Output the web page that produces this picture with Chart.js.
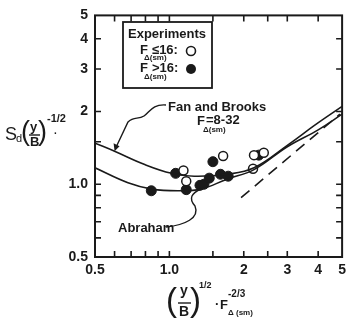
<!DOCTYPE html>
<html>
<head>
<meta charset="utf-8">
<script src="https://cdn.jsdelivr.net/npm/chart.js@4.4.0/dist/chart.umd.min.js"></script>
<style>
  html, body { margin: 0; padding: 0; background: #fff; }
  #wrap { width: 351px; height: 321px; }
</style>
</head>
<body>
<div id="wrap"><canvas id="c" width="351" height="321"></canvas></div>
<script>
// tick positions / labels (log axes, 0.5 .. 5)
const xTicks      = [0.5, 0.6, 0.7, 0.8, 0.9, 1.0, 1.5, 2, 2.5, 3, 4, 5];
const xTickLabels = ['0.5', '', '', '', '', '1.0', '', '2', '', '3', '4', '5'];
const yTicks      = [0.5, 0.6, 0.7, 0.8, 0.9, 1.0, 1.5, 2, 3, 4, 5];
const yTickLabels = ['0.5', '', '', '', '', '1.0', '', '2', '3', '4', '5'];

// Fan and Brooks curve (F = 8-32)
const fanX = [0.5, 0.6, 0.79, 1.02, 1.26, 1.71, 2.2, 3.03, 3.89, 5.0];
const fanY = [1.48, 1.37, 1.21, 1.11, 1.08, 1.10, 1.17, 1.46, 1.76, 2.10];

// Abraham curve
const abrX = [0.5, 0.68, 0.85, 1.08, 1.34, 1.71, 2.2, 3.0, 4.0, 5.0];
const abrY = [1.17, 1.015, 0.955, 0.94, 0.955, 1.05, 1.15, 1.43, 1.68, 1.95];

// dashed reference line
const dashX = [1.95, 4.9];
const dashY = [0.88, 1.95];

// experiments, F <= 16 (open)
const openX = [1.14, 1.17, 1.65, 2.2, 2.41, 2.18];
const openY = [1.14, 1.03, 1.31, 1.32, 1.35, 1.16];

// experiments, F > 16 (filled)
const fillX = [0.845, 1.06, 1.17, 1.33, 1.38, 1.45, 1.5, 1.61, 1.73, 2.3];
const fillY = [0.94, 1.11, 0.95, 0.99, 1.0, 1.06, 1.24, 1.10, 1.08, 1.32];

const pts = (xs, ys) => xs.map((x, i) => ({ x, y: ys[i] }));
const INK = '#1a1a1a';
const FONT = 'Liberation Sans, Arial, sans-serif';

// frame, inward ticks and the hand-lettered labels
const decor = {
  id: 'decor',
  afterDraw(chart) {
    const { ctx, chartArea: a, scales } = chart;
    const sx = scales.x, sy = scales.y;
    ctx.save();
    ctx.strokeStyle = INK;
    ctx.lineWidth = 2;
    ctx.strokeRect(a.left, a.top, a.right - a.left, a.bottom - a.top);

    ctx.lineWidth = 1.6;
    const tl = 6;
    xTicks.forEach(v => {
      const px = sx.getPixelForValue(v);
      if (px <= a.left + 1 || px >= a.right - 1) return;
      ctx.beginPath();
      ctx.moveTo(px, a.bottom); ctx.lineTo(px, a.bottom - tl);
      ctx.moveTo(px, a.top);    ctx.lineTo(px, a.top + tl);
      ctx.stroke();
    });
    yTicks.forEach(v => {
      const py = sy.getPixelForValue(v);
      if (py <= a.top + 1 || py >= a.bottom - 1) return;
      ctx.beginPath();
      ctx.moveTo(a.left, py);  ctx.lineTo(a.left + tl, py);
      ctx.moveTo(a.right, py); ctx.lineTo(a.right - tl, py);
      ctx.stroke();
    });

    ctx.fillStyle = INK;
    ctx.textBaseline = 'middle';
    const txt = (s, x, y, size, align, weight) => {
      ctx.font = (weight || 'bold') + ' ' + size + 'px ' + FONT;
      ctx.textAlign = align || 'left';
      ctx.fillText(s, x, y);
    };

    // legend box
    ctx.lineWidth = 1.8;
    ctx.strokeRect(123, 22, 89, 66);
    txt('Experiments', 128, 34, 13);
    txt('F', 140, 50, 13);
    txt('\u0394(sm)', 144, 58, 8);
    txt('\u226416:', 152, 50, 13);
    txt('F', 140, 68, 13);
    txt('\u0394(sm)', 144, 77, 8);
    txt('>16:', 152, 68, 13);
    ctx.lineWidth = 1.6;
    ctx.beginPath(); ctx.arc(191, 51, 4.5, 0, Math.PI * 2); ctx.stroke();
    ctx.beginPath(); ctx.arc(191, 69, 5, 0, Math.PI * 2); ctx.fill();

    // Fan and Brooks label + leader
    txt('Fan and Brooks', 168, 107, 13);
    txt('F', 197, 121, 13);
    txt('\u0394(sm)', 203, 130, 8);
    txt('=8-32', 206, 120, 13);
    const tipX = sx.getPixelForValue(0.6), tipY = sy.getPixelForValue(1.37);
    ctx.lineWidth = 1.4;
    ctx.beginPath();
    ctx.moveTo(166, 105);
    ctx.bezierCurveTo(152, 104, 150, 112, 144, 116);
    ctx.bezierCurveTo(138, 120, 134, 116, 128, 122);
    ctx.lineTo(tipX + 1, tipY - 3);
    ctx.stroke();
    ctx.beginPath();
    ctx.moveTo(tipX, tipY);
    ctx.lineTo(tipX - 1, tipY - 8);
    ctx.lineTo(tipX + 5, tipY - 5);
    ctx.closePath();
    ctx.fill();

    // Abraham label + leader
    txt('Abraham', 118, 228, 13);
    ctx.beginPath();
    ctx.moveTo(166, 227);
    ctx.bezierCurveTo(185, 225, 200, 218, 195, 206);
    ctx.bezierCurveTo(188, 198, 192, 193, 201, 189);
    ctx.stroke();

    // y-axis title
    txt('S', 5, 135, 18, 'left', 'normal');
    txt('d', 16, 139, 11, 'left', 'normal');
    txt('(', 21, 133, 27, 'left', 'normal');
    txt('y', 30, 127, 13);
    ctx.lineWidth = 1.4;
    ctx.beginPath(); ctx.moveTo(29, 135); ctx.lineTo(40, 135); ctx.stroke();
    txt('B', 30, 142, 13);
    txt(')', 38, 133, 27, 'left', 'normal');
    txt('-1/2', 47, 119, 11);
    txt('.', 54, 131, 10);

    // x-axis title
    txt('(', 166, 302, 33, 'left', 'normal');
    txt('y', 180, 291, 14);
    ctx.beginPath(); ctx.moveTo(178, 303); ctx.lineTo(191, 303); ctx.stroke();
    txt('B', 179, 312, 14);
    txt(')', 190, 302, 33, 'left', 'normal');
    txt('1/2', 199, 286, 9);
    txt('\u00B7', 215, 304, 13);
    txt('F', 220, 305, 13);
    txt('-2/3', 228, 294, 10);
    txt('\u0394 (sm)', 228, 313, 8);
    ctx.restore();
  }
};

const logAxis = (ticks, labels, pos, fitProp, fitSize) => ({
  type: 'logarithmic',
  position: pos,
  min: 0.5,
  max: 5,
  grid: { display: false, drawTicks: false, tickLength: 0 },
  border: { display: false },
  afterBuildTicks: s => { s.ticks = ticks.map(v => ({ value: v })); },
  afterFit: s => { s[fitProp] = fitSize; },
  ticks: {
    autoSkip: false,
    maxRotation: 0,
    padding: pos === 'bottom' ? 5 : 7,
    color: INK,
    font: { family: FONT, size: 14, weight: 'bold' },
    callback: (v, i) => labels[i]
  }
});

new Chart(document.getElementById('c'), {
  type: 'scatter',
  data: {
    datasets: [
      { type: 'line', data: pts(fanX, fanY), borderColor: INK, borderWidth: 1.6,
        pointRadius: 0, tension: 0.4, fill: false },
      { type: 'line', data: pts(abrX, abrY), borderColor: INK, borderWidth: 1.6,
        pointRadius: 0, tension: 0.4, fill: false },
      { type: 'line', data: pts(dashX, dashY), borderColor: INK, borderWidth: 1.6,
        borderDash: [11, 7], pointRadius: 0, fill: false },
      { data: pts(openX, openY), pointRadius: 4.5, pointBorderWidth: 1.5,
        pointBackgroundColor: '#fff', pointBorderColor: INK },
      { data: pts(fillX, fillY), pointRadius: 5, pointBorderWidth: 1,
        pointBackgroundColor: INK, pointBorderColor: INK }
    ]
  },
  options: {
    responsive: false,
    animation: false,
    layout: { padding: { top: 12, right: 8, left: 0, bottom: 0 } },
    plugins: { legend: { display: false }, tooltip: { enabled: false } },
    scales: {
      x: logAxis(xTicks, xTickLabels, 'bottom', 'height', 64),
      y: logAxis(yTicks, yTickLabels, 'left', 'width', 95)
    }
  },
  plugins: [decor]
});
</script>
</body>
</html>
